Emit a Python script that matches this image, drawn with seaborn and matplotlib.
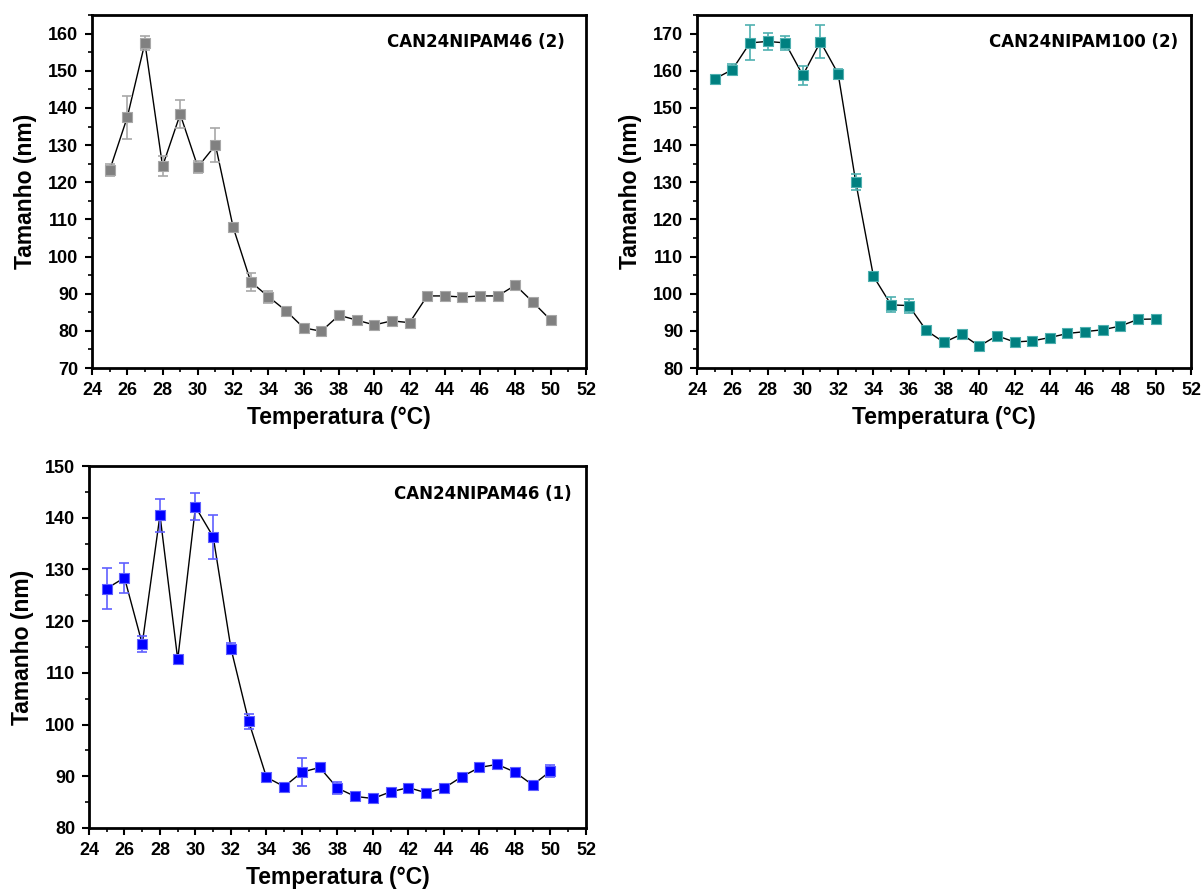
import numpy as np
import pandas as pd
import seaborn as sns
import matplotlib.pyplot as plt
from matplotlib.ticker import MultipleLocator

temp = list(range(25, 51))

# CAN24NIPAM46 (2)
size_46_2 = [123.2, 137.5, 157.5, 124.3, 138.3, 124.1, 130.0, 107.9, 93.2, 89.2,
             85.4, 80.8, 79.9, 84.2, 82.9, 81.6, 82.7, 82.2, 89.4, 89.4,
             89.1, 89.4, 89.4, 92.3, 87.7, 82.9]
err_46_2 = [1.6, 5.8, 1.9, 2.7, 3.7, 1.7, 4.5, 1.2, 2.5, 1.6,
            0.5, 0.5, 0.5, 0.6, 0.5, 0.5, 0.5, 0.5, 0.5, 0.5,
            0.5, 1.0, 0.5, 0.5, 0.5, 0.5]

# CAN24NIPAM100 (2)
size_100_2 = [157.8, 160.3, 167.5, 167.9, 167.5, 158.8, 167.8, 159.2, 130.0, 104.7,
              97.0, 96.8, 90.1, 86.9, 89.1, 85.9, 88.7, 87.0, 87.3, 88.2,
              89.3, 89.8, 90.3, 91.3, 93.1, 93.2]
err_100_2 = [0.8, 1.4, 4.7, 2.2, 1.9, 2.5, 4.4, 1.2, 2.1, 0.5,
             2.0, 1.9, 0.7, 0.5, 0.8, 0.5, 0.5, 0.5, 0.5, 0.5,
             0.5, 0.5, 0.5, 0.5, 0.5, 0.5]

# CAN24NIPAM46 (1)
size_46_1 = [126.3, 128.4, 115.6, 140.5, 112.6, 142.1, 136.3, 114.7, 100.6, 89.8,
             88.0, 90.8, 91.7, 87.7, 86.1, 85.7, 87.0, 87.8, 86.8, 87.7,
             89.9, 91.7, 92.3, 90.8, 88.3, 91.0]
err_46_1 = [4.0, 2.9, 1.5, 3.2, 0.3, 2.6, 4.3, 1.0, 1.45, 0.3,
            0.3, 2.7, 0.6, 1.2, 0.3, 0.3, 0.3, 0.3, 0.3, 0.3,
            0.3, 0.6, 0.8, 0.3, 0.3, 1.2]

sns.set_theme(style='ticks')
plt.rcParams['font.family'] = ['Liberation Sans', 'DejaVu Sans']
plt.rcParams['font.weight'] = 'bold'
for k in ['text.color', 'axes.labelcolor', 'xtick.color', 'ytick.color', 'axes.edgecolor']:
    plt.rcParams[k] = 'black'

fig = plt.figure(figsize=(12.04, 8.9), dpi=100)

panels = [
    dict(pos=[0.0764, 0.5865, 0.4103, 0.3966], y=size_46_2, e=err_46_2,
         color='#808080', edge='#a8a8a8', ylim=(70, 165), name='CAN24NIPAM46 (2)', tx=0.957),
    dict(pos=[0.5789, 0.5865, 0.4103, 0.3966], y=size_100_2, e=err_100_2,
         color='#008080', edge='#4fb0b0', ylim=(80, 175), name='CAN24NIPAM100 (2)', tx=0.974),
    dict(pos=[0.0739, 0.0697, 0.4128, 0.4067], y=size_46_1, e=err_46_1,
         color='#0000ff', edge='#6060ff', ylim=(80, 150), name='CAN24NIPAM46 (1)', tx=0.971),
]

for p in panels:
    ax = fig.add_axes(p['pos'])
    df = pd.DataFrame({'T': temp, 'D': p['y'], 'E': p['e']})
    sns.lineplot(data=df, x='T', y='D', ax=ax, color='black', lw=1.0, zorder=1)
    ax.errorbar(df['T'], df['D'], yerr=df['E'], fmt='none', ecolor=p['edge'],
                elinewidth=1.2, capsize=3.5, capthick=1.2, zorder=2)
    sns.scatterplot(data=df, x='T', y='D', ax=ax, marker='s', s=60,
                    color=p['color'], edgecolor=p['edge'], linewidth=0.8, zorder=3)
    ax.set_xlim(24, 52)
    ax.set_ylim(*p['ylim'])
    ax.xaxis.set_major_locator(MultipleLocator(2))
    ax.xaxis.set_minor_locator(MultipleLocator(1))
    ax.yaxis.set_major_locator(MultipleLocator(10))
    ax.yaxis.set_minor_locator(MultipleLocator(5))
    ax.tick_params(which='major', direction='out', length=5, width=1.5, labelsize=13, pad=5)
    ax.tick_params(which='minor', direction='out', length=3, width=1.2)
    for sp in ax.spines.values():
        sp.set_linewidth(2)
        sp.set_visible(True)
    for lab in ax.get_xticklabels() + ax.get_yticklabels():
        lab.set_fontweight('bold')
    ax.set_xlabel('Temperatura (°C)', fontsize=16.5, fontweight='bold', labelpad=5)
    ax.set_ylabel('Tamanho (nm)', fontsize=16.5, fontweight='bold', labelpad=8)
    ax.text(p['tx'], 0.924, p['name'], transform=ax.transAxes, ha='right', va='center',
            fontsize=12, fontweight='bold', family=['DejaVu Sans'])

fig.savefig('out.png', dpi=100)
